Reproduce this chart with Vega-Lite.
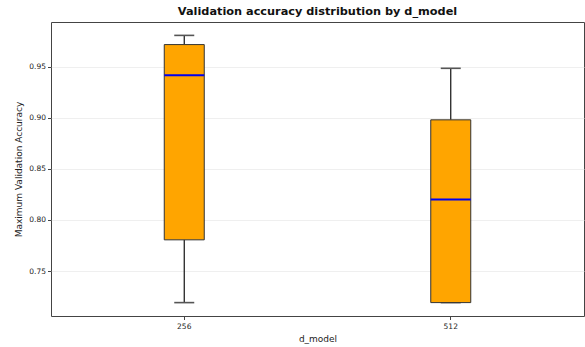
{
  "$schema": "https://vega.github.io/schema/vega-lite/v6.json",
  "width": 533,
  "height": 294,
  "autosize": {"type": "none"},
  "padding": {"left": 51, "top": 22, "right": 1, "bottom": 31},
  "background": "white",
  "config": {
    "font": "DejaVu Sans",
    "view": {"stroke": "#444444", "strokeWidth": 1},
    "axis": {
      "domain": false,
      "tickColor": "#444444",
      "tickSize": 3.5,
      "labelColor": "#222222",
      "labelFontSize": 7.5,
      "labelFont": "DejaVu Sans",
      "titleFont": "DejaVu Sans",
      "titleFontWeight": "normal",
      "titleFontSize": 9,
      "titleColor": "#222222"
    }
  },
  "title": {
    "text": "Validation accuracy distribution by d_model",
    "font": "DejaVu Sans",
    "fontSize": 11.3,
    "fontWeight": "bold",
    "color": "#111111",
    "anchor": "middle",
    "offset": 5
  },
  "data": {
    "values": [
      {"d_model": "256", "lower": 0.7191, "q1": 0.7805, "median": 0.9415, "q3": 0.9715, "upper": 0.9805},
      {"d_model": "512", "lower": 0.7191, "q1": 0.7191, "median": 0.8199, "q3": 0.8979, "upper": 0.9483}
    ]
  },
  "encoding": {
    "x": {
      "field": "d_model",
      "type": "nominal",
      "scale": {"paddingInner": 0, "paddingOuter": 0},
      "axis": {"labelAngle": 0, "grid": false, "title": "d_model", "labelPadding": 3, "titlePadding": 4}
    }
  },
  "layer": [
    {
      "mark": {"type": "rule", "color": "#111111", "strokeWidth": 1.2},
      "encoding": {
        "y": {
          "field": "lower",
          "type": "quantitative",
          "scale": {"domain": [0.706, 0.9936], "nice": false, "zero": false},
          "axis": {
            "values": [0.75, 0.8, 0.85, 0.9, 0.95],
            "format": ".2f",
            "grid": true,
            "gridColor": "#ebebeb",
            "gridWidth": 0.8,
            "title": "Maximum Validation Accuracy",
            "labelPadding": 2,
            "titlePadding": 5
          }
        },
        "y2": {"field": "q1"}
      }
    },
    {
      "mark": {"type": "rule", "color": "#111111", "strokeWidth": 1.2},
      "encoding": {
        "y": {"field": "q3", "type": "quantitative"},
        "y2": {"field": "upper"}
      }
    },
    {
      "mark": {"type": "tick", "color": "#555555", "opacity": 1, "size": 20, "thickness": 1.6},
      "encoding": {"y": {"field": "upper", "type": "quantitative"}}
    },
    {
      "mark": {"type": "tick", "color": "#555555", "opacity": 1, "size": 20, "thickness": 1.6},
      "encoding": {"y": {"field": "lower", "type": "quantitative"}}
    },
    {
      "mark": {"type": "bar", "width": 40, "fill": "#FFA500", "stroke": "#333333", "strokeWidth": 1, "opacity": 1},
      "encoding": {
        "y": {"field": "q1", "type": "quantitative"},
        "y2": {"field": "q3"}
      }
    },
    {
      "mark": {"type": "tick", "fill": "#0000ee", "stroke": null, "opacity": 1, "fillOpacity": 1, "size": 40, "thickness": 2},
      "encoding": {"y": {"field": "median", "type": "quantitative"}}
    }
  ]
}
